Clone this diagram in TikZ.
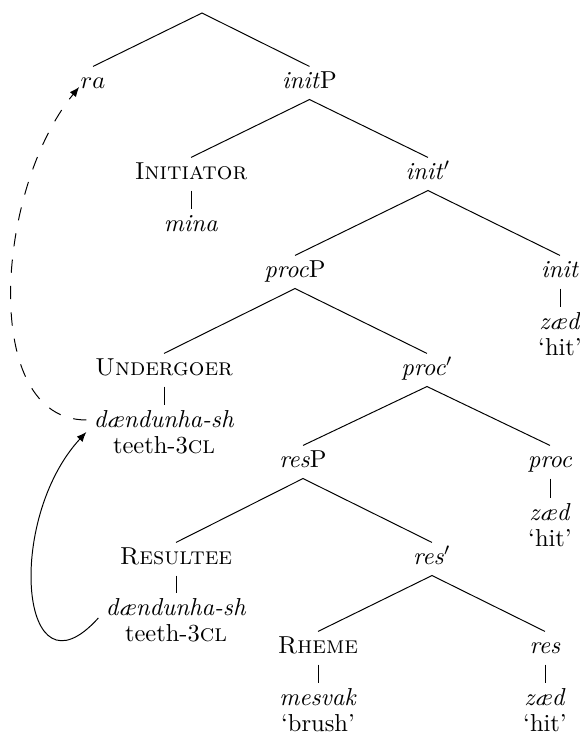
\documentclass[tikz,border=0pt]{standalone}
\usetikzlibrary{arrows.meta,calc}
\begin{document}
\begin{tikzpicture}[x=0.408pt,y=-0.408pt,
  lbl/.style={inner sep=0pt,text height=8.6pt,text depth=4.5pt,anchor=base},
  branch/.style={line width=0.4pt},
  move/.style={-{Latex[length=4pt,width=3.2pt]},line width=0.4pt},
  copymove/.style={move,dash pattern=on 5.4pt off 5.4pt}]
\useasboundingbox (0,0) rectangle (580,734);

% root
\coordinate (top) at (202,13);
\node[lbl] (ra) at (93,88) {$ra$};
\node[lbl] (initP) at (309.5,88) {\textit{init}P};

% initP
\node[lbl] (initiator) at (191,179) {\textsc{Initiator}};
\node[lbl] (mina) at (191,231) {\textit{mina}};
\node[lbl] (initbar) at (428,179) {\textit{init}$'$};

% init'
\node[lbl] (procP) at (295,277) {\textit{proc}P};
\node[lbl] (init) at (560,277) {\textit{init}};
\node[lbl] (zaedA) at (560,329) {\textit{zæd}};
\node[lbl] (hitA) at (560,355) {`hit'};

% procP
\node[lbl] (undergoer) at (164,375) {\textsc{Undergoer}};
\node[lbl] (teethA) at (164,427) {\textit{dændunha-sh}};
\node[lbl] (glossA) at (164,453) {teeth-3\textsc{cl}};
\node[lbl] (procbar) at (427,375) {\textit{proc}$'$};

% proc'
\node[lbl] (resP) at (303,467) {\textit{res}P};
\node[lbl] (proc) at (550,467) {\textit{proc}};
\node[lbl] (zaedB) at (550,520) {\textit{zæd}};
\node[lbl] (hitB) at (550,546) {`hit'};

% resP
\node[lbl] (resultee) at (176,564) {\textsc{Resultee}};
\node[lbl] (teethB) at (176,615) {\textit{dændunha-sh}};
\node[lbl] (glossB) at (176,641) {teeth-3\textsc{cl}};
\node[lbl] (resbar) at (432,564) {\textit{res}$'$};

% res'
\node[lbl] (rheme) at (318,653) {\textsc{Rheme}};
\node[lbl] (mesvak) at (318,705) {\textit{mesvak}};
\node[lbl] (brush) at (318,731) {`brush'};
\node[lbl] (res) at (545,653) {\textit{res}};
\node[lbl] (zaedC) at (545,705) {\textit{zæd}};
\node[lbl] (hitC) at (545,731) {`hit'};

% branches
\draw[branch] (ra.north) -- (top) -- (initP.north);
\draw[branch] (initiator.north) -- (initP.south) -- (initbar.north);
\draw[branch] (initiator.south) -- (mina.north);
\draw[branch] (procP.north) -- (initbar.south) -- (init.north);
\draw[branch] (init.south) -- (zaedA.north);
\draw[branch] (undergoer.north) -- (procP.south) -- (procbar.north);
\draw[branch] (undergoer.south) -- (teethA.north);
\draw[branch] (resP.north) -- (procbar.south) -- (proc.north);
\draw[branch] (proc.south) -- (zaedB.north);
\draw[branch] (resultee.north) -- (resP.south) -- (resbar.north);
\draw[branch] (resultee.south) -- (teethB.north);
\draw[branch] (rheme.north) -- (resbar.south) -- (res.north);
\draw[branch] (rheme.south) -- (mesvak.north);
\draw[branch] (res.south) -- (zaedC.north);

% movement arrows
\draw[copymove] ($(teethA.west)+(-7,-2)$)
  .. controls (-20,420) and (-5,190) .. ($(ra.west)+(-1,4)$);
\draw[move] ($(teethB.west)+(-7,8)$)
  .. controls (20,705) and (5,520) .. ($(teethA.west)+(-7,10)$);
\end{tikzpicture}
\end{document}
